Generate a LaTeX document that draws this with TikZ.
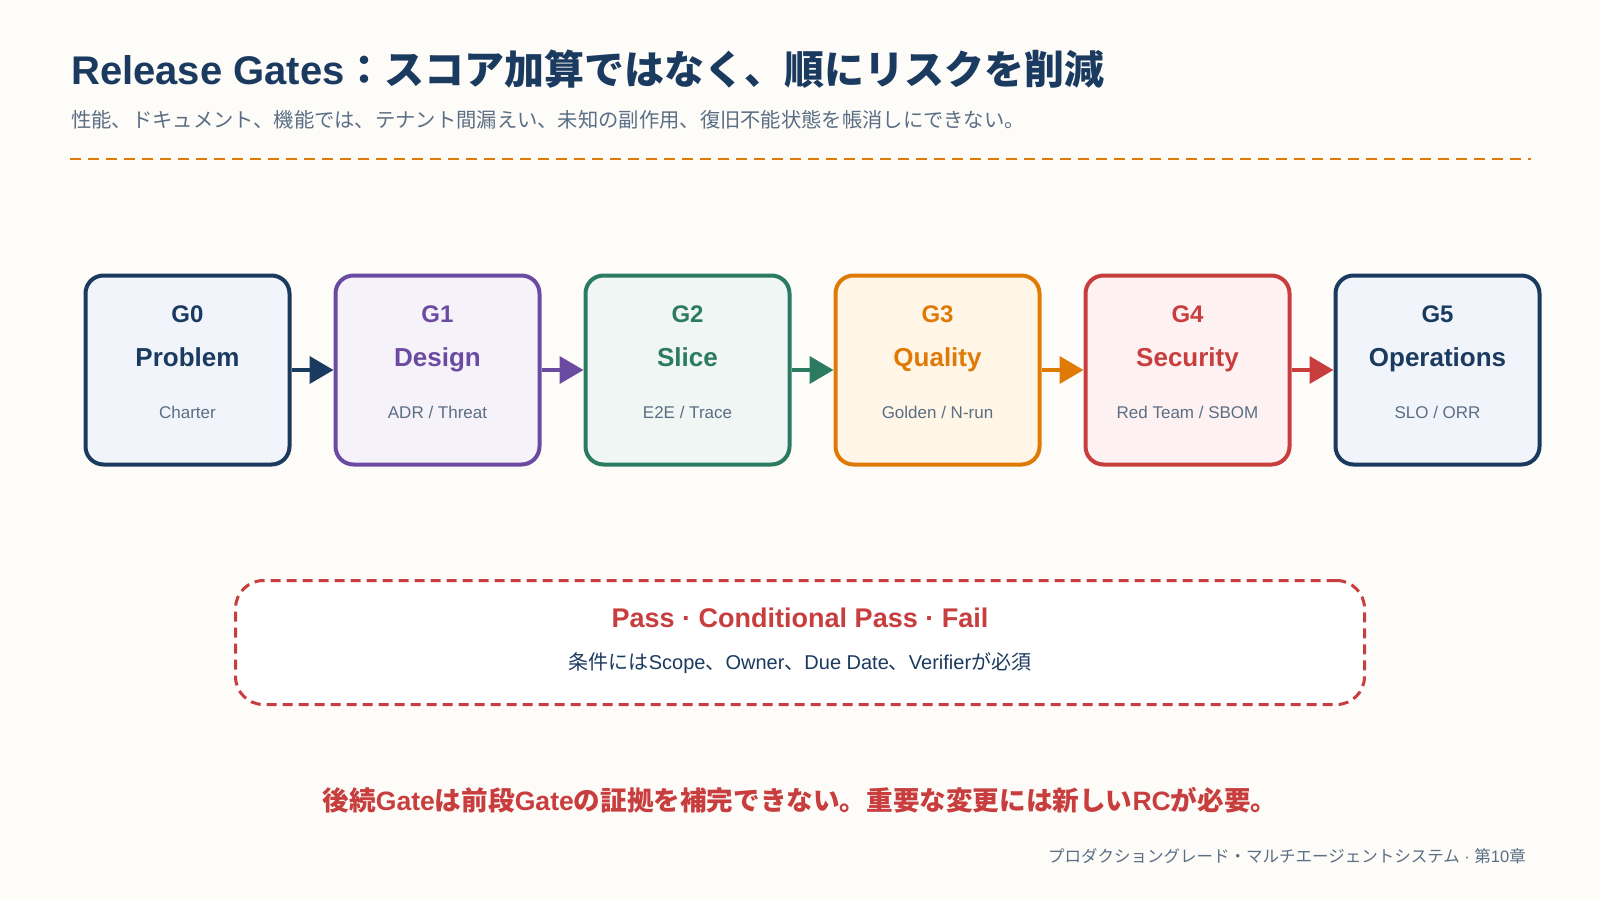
\documentclass[tikz,border=0pt]{standalone}
\usepackage{fontspec}
\setmainfont{Liberation Sans}
\newfontfamily\jpf{Noto Sans CJK JP}
\newcommand\J[1]{{\jpf #1}}
\usetikzlibrary{arrows.meta}
\definecolor{bg}{HTML}{FDFCF8}
\definecolor{navy}{HTML}{1B3A5F}
\definecolor{purp}{HTML}{6B4BA1}
\definecolor{grn}{HTML}{2B7A62}
\definecolor{orng}{HTML}{DF7A06}
\definecolor{redc}{HTML}{C83E3E}
\definecolor{subgray}{HTML}{5B6E84}
\definecolor{navyfill}{HTML}{F1F5FB}
\definecolor{purpfill}{HTML}{F6F2FA}
\definecolor{grnfill}{HTML}{EFF6F3}
\definecolor{orngfill}{HTML}{FFF6E8}
\definecolor{redcfill}{HTML}{FDF1F1}
\tikzset{
  gatebox/.style={draw, line width=4pt, rounded corners=18pt, minimum width=204pt, minimum height=189pt, inner sep=0pt},
  gid/.style={inner sep=0pt, anchor=base, font=\fontsize{24}{28}\selectfont\bfseries},
  gname/.style={inner sep=0pt, anchor=base, font=\fontsize{26}{30}\selectfont\bfseries},
  gsub/.style={inner sep=0pt, anchor=base, text=subgray, font=\fontsize{17}{20}\selectfont},
  flow/.style={line width=4pt, -{Triangle[length=24pt, width=27pt]}},
}
\begin{document}
\begin{tikzpicture}[x=1pt,y=-1pt]
\useasboundingbox[fill=bg] (0,0) rectangle (1600,900);

% title and subtitle
\node[anchor=base west, inner sep=0pt, text=navy, font=\fontsize{40}{48}\selectfont\bfseries] (title) at (71,84)
  {Release Gates\J{：スコア加算ではなく、順にリスクを削減}};
\node[anchor=base west, inner sep=0pt, text=subgray, font=\fontsize{20.3}{24}\selectfont] (subtitle) at (71,127)
  {\J{性能、ドキュメント、機能では、テナント間漏えい、未知の副作用、復旧不能状態を帳消しにできない。}};
\coordinate (rulel) at (70,159);
\coordinate (ruler) at (1531,159);
\draw[orng, line width=2.5pt, dash pattern=on 11pt off 7pt] (rulel) -- (ruler);

% gates
\foreach \i/\x/\c/\g/\n/\s in {0/187.5/navy/G0/Problem/{Charter},
                               1/437.5/purp/G1/Design/{ADR / Threat},
                               2/687.5/grn/G2/Slice/{E2E / Trace},
                               3/937.5/orng/G3/Quality/{Golden / N-run},
                               4/1187.5/redc/G4/Security/{Red Team / SBOM},
                               5/1437.5/navy/G5/Operations/{SLO / ORR}}{
  \node[gatebox, draw=\c, fill=\c fill] (g\i) at (\x,370) {};
  \node[gid, text=\c] (gid\i) at (\x,322) {\g};
  \node[gname, text=\c] (gname\i) at (\x,366.5) {\n};
  \node[gsub] (gsub\i) at (\x,418) {\s};
}
\foreach \i/\j/\c in {0/1/navy,1/2/purp,2/3/grn,3/4/orng,4/5/redc}{
  \draw[flow, draw=\c, fill=\c] (g\i.east) -- (g\j.west);
}

% decision box
\node[draw=redc, fill=white, line width=3pt, dash pattern=on 10pt off 6pt, rounded corners=28pt,
      minimum width=1129pt, minimum height=124pt, inner sep=0pt] (dec) at (800,642.5) {};
\node[inner sep=0pt, text=redc, font=\fontsize{27}{32}\selectfont\bfseries] (dectitle) at (800,618)
  {Pass · Conditional Pass · Fail};
\node[inner sep=0pt, text=navy, font=\fontsize{20}{24}\selectfont] (decsub) at (800,663)
  {\J{条件には}Scope\J{、}Owner\J{、}Due Date\J{、}Verifier\J{が必須}};

% bottom statement
\node[inner sep=0pt, text=redc, font=\fontsize{26.6}{32}\selectfont\bfseries] (rule) at (800,800)
  {\J{後続}Gate\J{は前段}Gate\J{の証拠を補完できない。重要な変更には新しい}RC\J{が必要。}};

% footer
\node[anchor=east, inner sep=0pt, text=subgray, font=\fontsize{16.5}{19}\selectfont] (footer) at (1526,856)
  {\J{プロダクショングレード・マルチエージェントシステム} · \J{第}10\J{章}};
\end{tikzpicture}
\end{document}
